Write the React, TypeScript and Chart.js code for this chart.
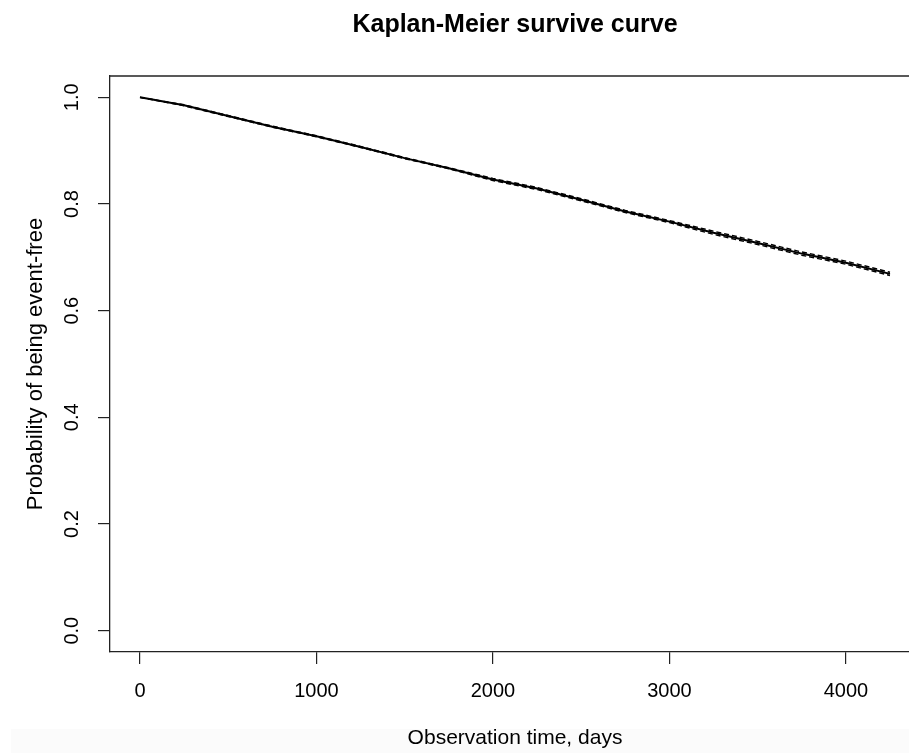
import React, { useEffect, useRef } from "react";
import { Chart, registerables } from "chart.js";

Chart.register(...registerables);

// Kaplan-Meier estimate: observation time (days) and survival probability
const days = [0, 250, 500, 750, 1000, 1250, 1500, 1750, 2000, 2250, 2500, 2750, 3000, 3250, 3500, 3750, 4000, 4250];
const survival = [1.0, 0.985, 0.965, 0.945, 0.927, 0.907, 0.886, 0.867, 0.846, 0.829, 0.808, 0.786, 0.767, 0.746, 0.727, 0.707, 0.69, 0.669];
// 95% confidence band (very narrow)
const ciUpper = [1.0, 0.986, 0.966, 0.946, 0.928, 0.908, 0.887, 0.868, 0.848, 0.831, 0.81, 0.788, 0.769, 0.749, 0.73, 0.71, 0.693, 0.672];
const ciLower = [1.0, 0.984, 0.964, 0.944, 0.926, 0.906, 0.885, 0.866, 0.844, 0.827, 0.806, 0.784, 0.765, 0.743, 0.724, 0.704, 0.687, 0.666];

const xTicks = [0, 1000, 2000, 3000, 4000];
const yTicks = [0, 0.2, 0.4, 0.6, 0.8, 1.0];

const TITLE = "Kaplan-Meier survive curve";
const X_LABEL = "Observation time, days";
const Y_LABEL = "Probability of being event-free";

const FONT = '"Liberation Sans", Arial, Helvetica, sans-serif';

// R-style axis ranges: data range padded by 4% on each side
const X_MIN = -170;
const X_MAX = 4420;
const Y_MIN = -0.04;
const Y_MAX = 1.04;

const toPoints = (ys: number[]) => days.map((d, i) => ({ x: d, y: ys[i] }));

const boxAndLabels = {
  id: "boxAndLabels",
  beforeDraw(chart: any) {
    const { ctx, width } = chart;
    ctx.save();
    ctx.fillStyle = "#fbfbfb";
    ctx.fillRect(11, 729, width - 11, 24);
    ctx.restore();
  },
  afterDraw(chart: any) {
    const { ctx, chartArea } = chart;
    const yScale = chart.scales.y;
    ctx.save();
    // top edge of the plot box
    ctx.strokeStyle = "#222";
    ctx.lineWidth = 1.3;
    ctx.beginPath();
    ctx.moveTo(chartArea.left, chartArea.top);
    ctx.lineTo(chartArea.right, chartArea.top);
    ctx.stroke();
    // rotated y tick labels
    ctx.fillStyle = "#000";
    ctx.font = `20px ${FONT}`;
    ctx.textAlign = "center";
    ctx.textBaseline = "middle";
    yTicks.forEach((v) => {
      const py = yScale.getPixelForValue(v);
      ctx.save();
      ctx.translate(72, py);
      ctx.rotate(-Math.PI / 2);
      ctx.fillText(v.toFixed(1), 0, 0);
      ctx.restore();
    });
    ctx.restore();
  },
};

export default function App() {
  const canvasRef = useRef<HTMLCanvasElement | null>(null);

  useEffect(() => {
    if (!canvasRef.current) return;
    const chart = new Chart(canvasRef.current, {
      type: "line",
      data: {
        datasets: [
          {
            label: "Survival",
            data: toPoints(survival),
            borderColor: "#000",
            borderWidth: 2,
            pointRadius: 0,
            tension: 0,
          },
          {
            label: "Upper 95% CI",
            data: toPoints(ciUpper),
            borderColor: "#000",
            borderWidth: 1.4,
            borderDash: [5, 3],
            pointRadius: 0,
            tension: 0,
          },
          {
            label: "Lower 95% CI",
            data: toPoints(ciLower),
            borderColor: "#000",
            borderWidth: 1.4,
            borderDash: [5, 3],
            pointRadius: 0,
            tension: 0,
          },
        ],
      },
      options: {
        animation: false,
        responsive: false,
        devicePixelRatio: 1,
        layout: { padding: 0 },
        plugins: {
          legend: { display: false },
          tooltip: { enabled: false },
          title: {
            display: true,
            text: TITLE,
            fullSize: false,
            color: "#000",
            font: { family: FONT, size: 25, weight: "bold" },
            padding: { top: 10, bottom: 36 },
          },
        },
        scales: {
          x: {
            type: "linear",
            min: X_MIN,
            max: X_MAX,
            afterFit: (scale: any) => {
              scale.height = 101;
            },
            afterBuildTicks: (scale: any) => {
              scale.ticks = xTicks.map((v) => ({ value: v }));
            },
            ticks: {
              includeBounds: false,
              color: "#000",
              font: { family: FONT, size: 20 },
              padding: 15,
              maxRotation: 0,
              callback: (v: any) => String(v),
            },
            grid: {
              drawOnChartArea: false,
              drawTicks: true,
              tickLength: 12,
              color: "#222",
              lineWidth: 1.2,
            },
            border: { display: true, color: "#222", width: 1.3 },
            title: {
              display: true,
              text: X_LABEL,
              color: "#000",
              font: { family: FONT, size: 21 },
              padding: { top: 0, bottom: 2 },
            },
          },
          y: {
            type: "linear",
            min: Y_MIN,
            max: Y_MAX,
            afterFit: (scale: any) => {
              scale.width = 110;
            },
            afterBuildTicks: (scale: any) => {
              scale.ticks = yTicks.map((v) => ({ value: v }));
            },
            ticks: {
              display: false,
              includeBounds: false,
            },
            grid: {
              drawOnChartArea: false,
              drawTicks: true,
              tickLength: 12,
              color: "#222",
              lineWidth: 1.2,
            },
            border: { display: true, color: "#222", width: 1.3 },
            title: {
              display: true,
              text: Y_LABEL,
              color: "#000",
              font: { family: FONT, size: 22 },
              padding: { top: 23, bottom: 0 },
            },
          },
        },
      },
      plugins: [boxAndLabels],
    });
    return () => chart.destroy();
  }, []);

  return (
    <div
      style={{
        position: "fixed",
        left: 0,
        top: 0,
        width: 909,
        height: 753,
        overflow: "hidden",
        background: "#fff",
      }}
    >
      <canvas ref={canvasRef} width={920} height={753} style={{ display: "block" }} />
    </div>
  );
}
